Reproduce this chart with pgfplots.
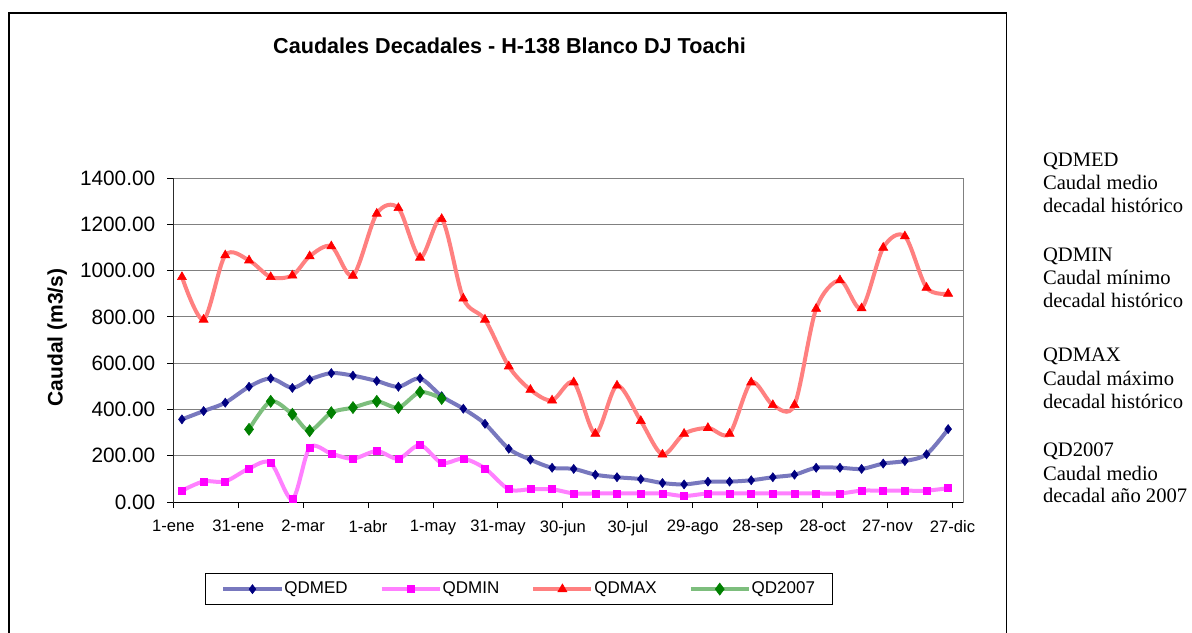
\documentclass[border=0pt]{standalone}
\usepackage{fontspec}
\setmainfont{Liberation Sans}
\newfontfamily\timesfont{Liberation Serif}
\usepackage{pgfplots}
\pgfplotsset{compat=1.18}
\definecolor{medline}{RGB}{120,120,190}
\definecolor{medmark}{RGB}{0,0,128}
\definecolor{minline}{RGB}{255,128,255}
\definecolor{minmark}{RGB}{255,0,255}
\definecolor{maxline}{RGB}{255,128,128}
\definecolor{maxmark}{RGB}{255,0,0}
\definecolor{d07line}{RGB}{125,190,125}
\definecolor{d07mark}{RGB}{0,128,0}
\definecolor{gridgray}{RGB}{128,128,128}
\begin{document}
\begin{tikzpicture}
\useasboundingbox (0,0) rectangle (596pt,316pt);
\draw[black, line width=0.6pt] (4.5pt,-3pt) -- (4.5pt,309.5pt) -- (503.35pt,309.5pt) -- (503.35pt,-3pt);
\node[anchor=base, inner sep=0pt, font=\bfseries\fontsize{10.8}{13}\selectfont] at (254.75pt,289.35pt) {Caudales Decadales - H-138 Blanco DJ Toachi};
\begin{axis}[
  at={(86.65pt,65pt)}, anchor=south west,
  scale only axis, width=395pt, height=162pt,
  xmin=0, xmax=365, ymin=0, ymax=1400,
  xtick={0,30,60,90,120,150,180,210,240,270,300,330,360},
  xticklabels={1-ene,31-ene,2-mar,1-abr,1-may,31-may,30-jun,30-jul,29-ago,28-sep,28-oct,27-nov,27-dic},
  ytick={0,200,400,600,800,1000,1200,1400},
  ymajorgrids, grid style={gridgray, line width=0.5pt},
  axis line style={gridgray, line width=0.5pt},
  tick pos=left, tick align=outside, major tick length=3pt,
  tick style={black, line width=0.5pt},
  yticklabel style={font=\fontsize{10.4}{12}\selectfont, xshift=-2.5pt, /pgf/number format/.cd, fixed, fixed zerofill, precision=2, 1000 sep={}, assume math mode=true},
  xticklabel style={font=\fontsize{8.3}{10}\selectfont, yshift=-2.5pt},
  ylabel={Caudal (m3/s)},
  ylabel style={font=\bfseries\fontsize{10.5}{12}\selectfont, at={(rel axis cs:-0.147,0.508)}, anchor=center},
  legend columns=4,
  legend style={at={(rel axis cs:0.4373,-0.269)}, anchor=center, draw=black, line width=0.5pt, fill=white,
    font=\fontsize{8.5}{10}\selectfont, inner xsep=8pt, inner ysep=3.5pt,
    nodes={inner sep=0.5pt},
    /tikz/every even column/.append style={column sep=15.5pt}},
  legend image code/.code={\draw[mark repeat=2,mark phase=2,#1] plot coordinates {(0pt,0pt) (14.5pt,0pt) (29pt,0pt)};},
]
\addplot[smooth, tension=0.5, medline, line width=2pt, mark=diamond*, mark size=2.25pt, mark options={solid, draw=medmark, fill=medmark, line width=0.3pt}] coordinates {
(4,357) (14,393) (24,429) (35,498) (45,534) (55,493) (63,529) (73,557) (83,546)
(94,523) (104,498) (114,534) (124,457) (134,403) (144,338) (155,230) (165,183) (175,148)
(185,143) (195,118) (205,107) (216,99) (226,82) (236,76) (247,88) (257,88) (267,94)
(277,107) (287,118) (297,148) (308,148) (318,143) (328,166) (338,177) (348,206) (358,315)};
\addlegendentry{QDMED}
\addplot[smooth, tension=0.5, minline, line width=2pt, mark=square*, mark size=1.75pt, mark options={solid, draw=minmark, fill=minmark, line width=0.3pt}] coordinates {
(4,49) (14,89) (24,89) (35,145) (45,169) (55,12) (63,235) (73,209) (83,187)
(94,220) (104,187) (114,246) (124,169) (134,187) (144,145) (155,55) (165,55) (175,55)
(185,37) (195,37) (205,37) (216,37) (226,37) (236,26) (247,37) (257,37) (267,37)
(277,37) (287,37) (297,37) (308,37) (318,49) (328,49) (338,49) (348,49) (358,60)};
\addlegendentry{QDMIN}
\addplot[smooth, tension=0.5, maxline, line width=2pt, mark=triangle*, mark size=2.6pt, mark options={solid, draw=maxmark, fill=maxmark, line width=0.3pt}] coordinates {
(4,972) (14,788) (24,1066) (35,1044) (45,972) (55,979) (63,1062) (73,1105) (83,978)
(94,1246) (104,1270) (114,1056) (124,1223) (134,879) (144,788) (155,586) (165,485) (175,439)
(185,517) (195,295) (205,503) (216,350) (226,205) (236,295) (247,320) (257,295) (267,517)
(277,419) (287,419) (297,835) (308,958) (318,837) (328,1099) (338,1148) (348,926) (358,900)};
\addlegendentry{QDMAX}
\addplot[smooth, tension=0.5, d07line, line width=2pt, mark=diamond*, mark size=3pt, mark options={solid, draw=d07mark, fill=d07mark, line width=0.3pt}] coordinates {
(35,314) (45,435) (55,379) (63,308) (73,386) (83,408) (94,435) (104,408) (114,475) (124,447)};
\addlegendentry{QD2007}
\draw[black, line width=0.5pt] (rel axis cs:0,1) -- (rel axis cs:0,0) -- (rel axis cs:1,0);
\end{axis}
\begin{scope}[every node/.style={anchor=base west, inner sep=0pt, font=\timesfont\fontsize{10.3}{12}\selectfont}]
\node at (521.3pt,232.65pt) {QDMED};
\node at (521.3pt,221pt) {Caudal medio};
\node at (521.3pt,209.65pt) {decadal histórico};
\node at (521.3pt,185.15pt) {QDMIN};
\node at (521.3pt,173.5pt) {Caudal mínimo};
\node at (521.3pt,162.35pt) {decadal histórico};
\node at (521.3pt,135.15pt) {QDMAX};
\node at (521.3pt,123.5pt) {Caudal máximo};
\node at (521.3pt,111.85pt) {decadal histórico};
\node at (521.3pt,87.65pt) {QD2007};
\node at (521.3pt,76pt) {Caudal medio};
\node at (521.3pt,64.65pt) {decadal año 2007};
\end{scope}
\end{tikzpicture}
\end{document}
